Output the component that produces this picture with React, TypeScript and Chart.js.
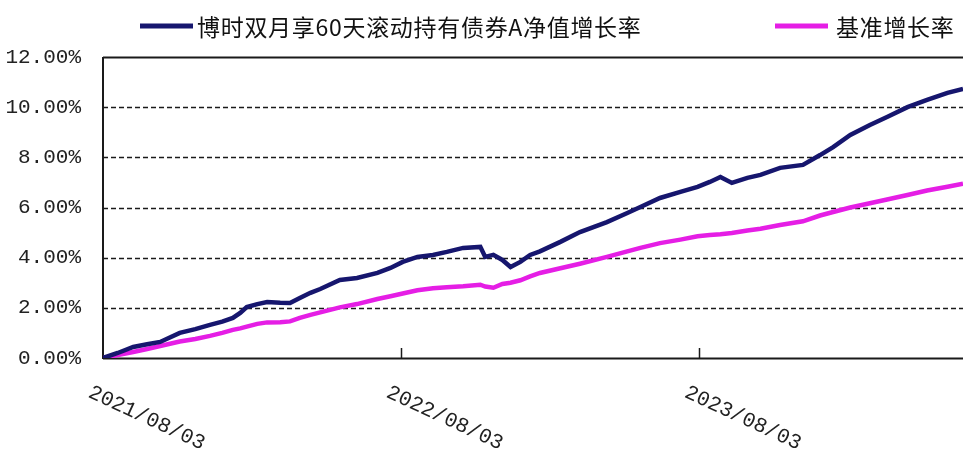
import React, { useEffect, useRef } from "react";
import { Chart, registerables } from "chart.js";

Chart.register(...registerables);

// Dates of the sampled points
const dates = [
  "2021-08-03", "2021-08-21", "2021-09-09", "2021-09-26", "2021-10-12", "2021-11-05",
  "2021-11-24", "2021-12-12", "2021-12-27", "2022-01-09", "2022-01-18", "2022-01-26",
  "2022-02-08", "2022-02-20", "2022-03-08", "2022-03-20", "2022-04-01", "2022-04-14",
  "2022-04-26", "2022-05-20", "2022-06-10", "2022-07-05", "2022-07-21", "2022-08-05",
  "2022-08-23", "2022-09-11", "2022-09-28", "2022-10-18", "2022-11-08", "2022-11-14",
  "2022-11-24", "2022-12-05", "2022-12-15", "2022-12-27", "2023-01-08", "2023-01-20",
  "2023-02-14", "2023-03-10", "2023-04-12", "2023-05-07", "2023-05-23", "2023-06-16",
  "2023-07-11", "2023-08-01", "2023-08-16", "2023-08-29", "2023-09-12", "2023-10-01",
  "2023-10-17", "2023-11-10", "2023-12-08", "2023-12-29", "2024-01-14", "2024-02-04",
  "2024-02-28", "2024-03-20", "2024-04-14", "2024-05-08", "2024-06-02", "2024-06-21",
];

// 博时双月享60天滚动持有债券A净值增长率 (%)
const fundValues = [
  0, 0.2, 0.44, 0.55, 0.64, 1.0,
  1.15, 1.32, 1.45, 1.6, 1.8, 2.03,
  2.15, 2.23, 2.2, 2.19, 2.39, 2.6,
  2.75, 3.11, 3.19, 3.39, 3.59, 3.83,
  4.03, 4.11, 4.23, 4.39, 4.43, 4.03,
  4.11, 3.91, 3.63, 3.83, 4.11, 4.25,
  4.63, 5.02, 5.42, 5.78, 6.02, 6.38,
  6.62, 6.82, 7.02, 7.22, 6.98, 7.18,
  7.3, 7.58, 7.7, 8.09, 8.41, 8.89,
  9.29, 9.61, 10.0, 10.29, 10.57, 10.73,
];

// 基准增长率 (%)
const benchmarkValues = [
  0, 0.12, 0.24, 0.36, 0.48, 0.66,
  0.76, 0.88, 1.0, 1.12, 1.18, 1.25,
  1.36, 1.42, 1.43, 1.46, 1.6, 1.72,
  1.82, 2.02, 2.15, 2.35, 2.46, 2.57,
  2.7, 2.78, 2.82, 2.86, 2.92, 2.85,
  2.8, 2.95, 3.0, 3.1, 3.25, 3.39,
  3.58, 3.76, 4.03, 4.25, 4.39, 4.58,
  4.72, 4.85, 4.9, 4.93, 4.98, 5.08,
  5.15, 5.3, 5.45, 5.68, 5.82, 6.0,
  6.17, 6.32, 6.5, 6.68, 6.83, 6.95,
];

const seriesLabels = ["博时双月享60天滚动持有债券A净值增长率", "基准增长率"];
const seriesColors = ["#16166e", "#e51ee5"];
const yTickValues = [0, 2, 4, 6, 8, 10, 12];
const xTickLabels = ["2021/08/03", "2022/08/03", "2023/08/03"];
const xEndDate = "2024-06-21";

const START = Date.UTC(2021, 7, 3);
const dayOf = (s: string) => {
  const [y, m, d] = s.split(/[-/]/).map(Number);
  return Math.round((Date.UTC(y, m - 1, d) - START) / 86400000);
};

const decorPlugin = {
  id: "decor",
  beforeDatasetsDraw(chart: any) {
    const { ctx, chartArea, scales } = chart;
    const ys = scales.y;
    ctx.save();
    ctx.strokeStyle = "#1a1a1a";
    for (const v of yTickValues) {
      const py = Math.round(ys.getPixelForValue(v)) + 0.5;
      if (v === 0 || v === 12) {
        ctx.setLineDash([]);
        ctx.lineWidth = 2;
      } else {
        ctx.setLineDash([5, 3]);
        ctx.lineWidth = 1.5;
      }
      ctx.beginPath();
      ctx.moveTo(chartArea.left, py);
      ctx.lineTo(chartArea.right, py);
      ctx.stroke();
    }
    ctx.setLineDash([]);
    ctx.lineWidth = 2;
    ctx.beginPath();
    ctx.moveTo(chartArea.left, chartArea.top);
    ctx.lineTo(chartArea.left, chartArea.bottom + 1);
    ctx.stroke();
    ctx.restore();
  },
  afterDraw(chart: any) {
    const { ctx, chartArea, scales } = chart;
    const xs = scales.x;
    ctx.save();
    ctx.strokeStyle = "#1a1a1a";
    ctx.lineWidth = 1.5;
    ctx.fillStyle = "#222";
    ctx.font = "21px 'Liberation Mono', monospace";
    ctx.textAlign = "left";
    ctx.textBaseline = "top";
    xTickLabels.forEach((lab, i) => {
      const px = xs.getPixelForValue(dayOf(lab));
      if (i > 0) {
        ctx.beginPath();
        ctx.moveTo(Math.round(px) + 0.5, chartArea.bottom);
        ctx.lineTo(Math.round(px) + 0.5, chartArea.bottom - 10);
        ctx.stroke();
      }
      ctx.save();
      ctx.translate(px - 9, chartArea.bottom + 24);
      ctx.rotate((25 * Math.PI) / 180);
      ctx.fillText(lab, 0, 0);
      ctx.restore();
    });
    const items = [
      { x0: 140, x1: 193, tx: 197 },
      { x0: 775, x1: 828, tx: 836 },
    ];
    ctx.font = "23px 'Noto Sans CJK SC', sans-serif";
    (ctx as any).letterSpacing = "0.7px";
    ctx.textBaseline = "middle";
    chart.data.datasets.forEach((ds: any, i: number) => {
      const it = items[i];
      ctx.strokeStyle = ds.borderColor;
      ctx.lineWidth = 5;
      ctx.beginPath();
      ctx.moveTo(it.x0, 26);
      ctx.lineTo(it.x1, 26);
      ctx.stroke();
      ctx.fillStyle = "#111";
      ctx.fillText(ds.label, it.tx, 27);
    });
    ctx.restore();
  },
};

export default function App() {
  const canvasRef = useRef<HTMLCanvasElement | null>(null);

  useEffect(() => {
    document.body.style.margin = "0";
    const canvas = canvasRef.current;
    if (!canvas) return;
    const xs = dates.map(dayOf);
    const chart = new Chart(canvas, {
      type: "line",
      data: {
        datasets: [
          {
            label: seriesLabels[0],
            data: xs.map((x, i) => ({ x, y: fundValues[i] })),
            borderColor: seriesColors[0],
            backgroundColor: seriesColors[0],
            borderWidth: 4.5,
            pointRadius: 0,
            tension: 0,
          },
          {
            label: seriesLabels[1],
            data: xs.map((x, i) => ({ x, y: benchmarkValues[i] })),
            borderColor: seriesColors[1],
            backgroundColor: seriesColors[1],
            borderWidth: 4.5,
            pointRadius: 0,
            tension: 0,
          },
        ],
      },
      options: {
        animation: false,
        responsive: true,
        maintainAspectRatio: false,
        layout: { padding: { top: 57, left: 0, right: 0, bottom: 0 } },
        plugins: { legend: { display: false }, tooltip: { enabled: false } },
        scales: {
          x: {
            type: "linear",
            min: 0,
            max: dayOf(xEndDate),
            ticks: { display: false },
            grid: { display: false },
            border: { display: false },
            afterFit: (s: any) => {
              s.height = 92;
            },
          },
          y: {
            min: 0,
            max: 12,
            ticks: {
              stepSize: 2,
              padding: 14,
              color: "#222",
              font: { family: "'Liberation Mono', monospace", size: 21 },
              callback: (v: any) => Number(v).toFixed(2) + "%",
            },
            grid: { display: false },
            border: { display: false },
            afterFit: (s: any) => {
              s.width = 103;
            },
          },
        },
      },
      plugins: [decorPlugin],
    });
    return () => chart.destroy();
  }, []);

  return (
    <div style={{ width: 963, height: 450, position: "relative", background: "#fff" }}>
      <canvas ref={canvasRef} />
    </div>
  );
}
